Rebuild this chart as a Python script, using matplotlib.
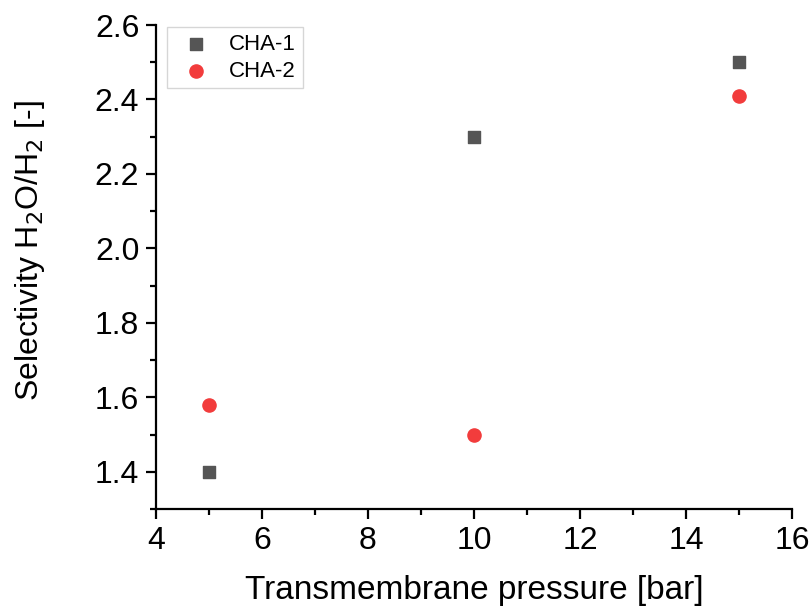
import numpy as np
import matplotlib.pyplot as plt
from matplotlib.ticker import MultipleLocator

plt.rcParams['font.family'] = ['Liberation Sans', 'DejaVu Sans']

pressure = [5, 10, 15]
cha1 = [1.40, 2.30, 2.50]
cha2 = [1.58, 1.50, 2.41]

fig = plt.figure(figsize=(8.12, 6.08), dpi=100)
ax = fig.add_axes([156/812, 1 - 509/608, (792-156)/812, (509-25)/608])

ax.scatter(pressure, cha1, marker='s', s=80, color='#555555', label='CHA-1', zorder=3)
ax.scatter(pressure, cha2, marker='o', s=90, color='#f23c3c', label='CHA-2', zorder=3)

ax.set_xlim(4, 16)
ax.set_ylim(1.3, 2.6)
ax.xaxis.set_major_locator(MultipleLocator(2))
ax.xaxis.set_minor_locator(MultipleLocator(1))
ax.yaxis.set_minor_locator(MultipleLocator(0.1))
ax.set_yticks(np.arange(1.4, 2.61, 0.2))

for s in ['top', 'right']:
    ax.spines[s].set_visible(False)
for s in ['left', 'bottom']:
    ax.spines[s].set_linewidth(1.6)
ax.tick_params(which='major', direction='out', length=7, width=1.6, labelsize=23, pad=5)
ax.tick_params(which='minor', direction='out', length=4, width=1.6)

ax.set_xlabel('Transmembrane pressure [bar]', fontsize=24, labelpad=14)
ax.set_ylabel('Selectivity H$_2$O/H$_2$ [-]', fontsize=23)
ax.yaxis.set_label_coords(-0.172, 0.535)

ax.legend(loc='upper left', bbox_to_anchor=(0.017, 0.995), fontsize=16, frameon=True,
          fancybox=False, edgecolor='#cccccc', handletextpad=0.5, borderpad=0.3,
          labelspacing=0.25, borderaxespad=0.0)

fig.savefig('out.png', dpi=100)
